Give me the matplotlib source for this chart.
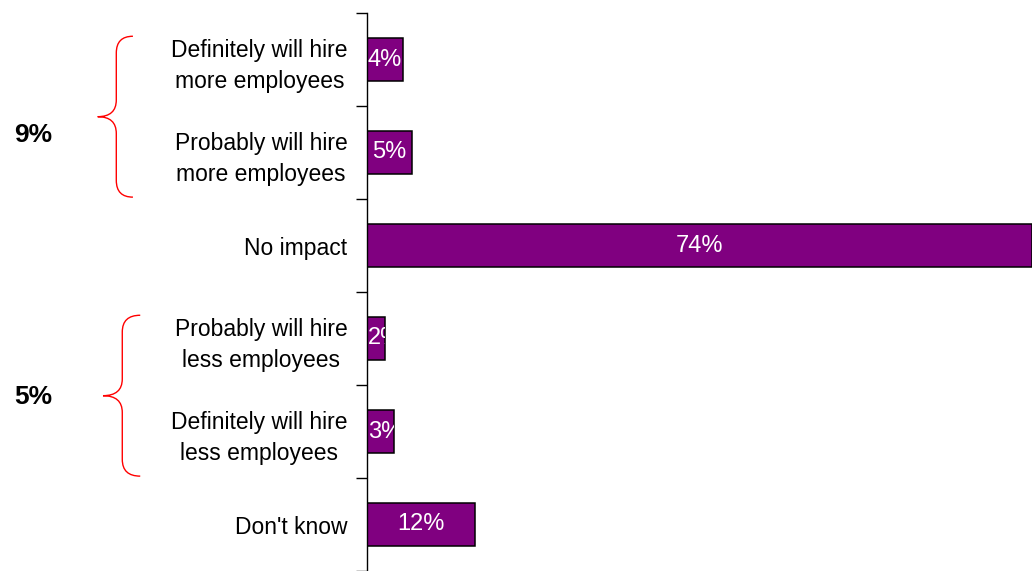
import matplotlib
matplotlib.use("Agg")
import matplotlib.pyplot as plt
import matplotlib.transforms as mtransforms
from matplotlib.path import Path
from matplotlib.patches import PathPatch

plt.rcParams['font.family'] = ['Liberation Sans', 'DejaVu Sans']

# --- данные ---
categories = [
    "Definitely will hire\nmore employees",
    "Probably will hire\nmore employees",
    "No impact",
    "Probably will hire\nless employees",
    "Definitely will hire\nless employees",
    "Don't know",
]
values = [4, 5, 74, 2, 3, 12]

# группы со скобками: (первый индекс, последний индекс, подпись)
groups = [(0, 1, "9%"), (3, 4, "5%")]

W, H = 1032, 571
fig = plt.figure(figsize=(W / 100, H / 100), dpi=100)
ax = fig.add_axes([367 / W, 0, 665 / W, 558 / H])

ypos = list(range(len(categories)))
bars = ax.barh(ypos, values, height=0.47, color='#800080',
               edgecolor='black', linewidth=1.1)

ax.set_xlim(0, max(values))
ax.set_ylim(5.447, -0.5)

# подписи значений внутри столбцов (обрезаются по столбцу)
for bar, v in zip(bars, values):
    t = ax.text(max(v / 2, 2.0), bar.get_y() + bar.get_height() / 2,
                f"{v}%", color='white', fontsize=17, ha='center', va='center',
                clip_on=True)
    t.set_clip_path(bar)

# оси
for s in ['top', 'right', 'bottom']:
    ax.spines[s].set_visible(False)
ax.spines['left'].set_linewidth(1.0)
ax.set_xticks([])
ax.set_yticks([i - 0.5 for i in range(len(categories) + 1)])
ax.set_yticklabels([])
ax.tick_params(axis='y', which='major', length=8, width=1.0)
ax.set_yticks(ypos, minor=True)
ax.set_yticklabels(categories, minor=True, fontsize=16.5, ha='right',
                   multialignment='center', linespacing=1.45)
ax.tick_params(axis='y', which='minor', length=0, pad=14)

# фигурные скобки
trans = mtransforms.blended_transform_factory(ax.transAxes, ax.transData)


def brace(y_top, y_bot, x_end, x_mid, x_tip, r=0.18):
    y_m = (y_top + y_bot) / 2
    verts = [
        (x_end, y_top), (x_mid, y_top), (x_mid, y_top + r),
        (x_mid, y_m - r),
        (x_mid, y_m), (x_tip, y_m),
        (x_mid, y_m), (x_mid, y_m + r),
        (x_mid, y_bot - r),
        (x_mid, y_bot), (x_end, y_bot),
    ]
    codes = [Path.MOVETO, Path.CURVE3, Path.CURVE3,
             Path.LINETO,
             Path.CURVE3, Path.CURVE3,
             Path.CURVE3, Path.CURVE3,
             Path.LINETO,
             Path.CURVE3, Path.CURVE3]
    p = PathPatch(Path(verts, codes), transform=trans, fill=False,
                  edgecolor='red', linewidth=1.0, clip_on=False)
    ax.add_patch(p)


brace_x = [(-0.352, -0.377, -0.405), (-0.341, -0.368, -0.397)]
label_y = [0.81, 3.63]
for (i0, i1, lab), (xe, xm, xt), ly in zip(groups, brace_x, label_y):
    brace(i0 - 0.25, i1 + 0.48, xe, xm, xt)
    ax.text(-0.502, ly, lab, transform=trans, fontsize=19, fontweight='bold',
            ha='center', va='center', clip_on=False)

fig.savefig("out.png", dpi=100)
